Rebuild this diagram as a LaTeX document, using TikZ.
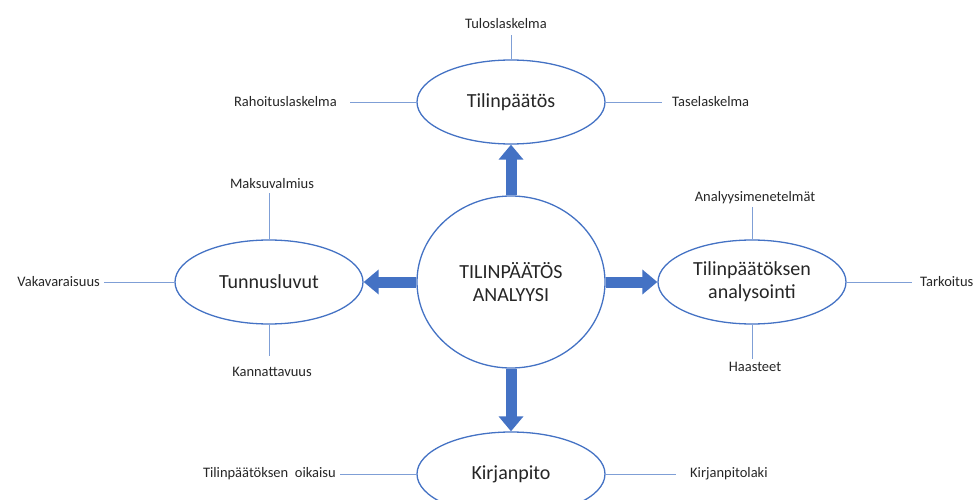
\documentclass[tikz,border=0pt]{standalone}
\usepackage{fontspec}
\setmainfont{Carlito}
\usetikzlibrary{shapes.geometric,arrows.meta}
\definecolor{ovalblue}{HTML}{4472C4}
\definecolor{linkblue}{HTML}{7F9FD6}
\definecolor{txtgray}{HTML}{262626}
\begin{document}
\begin{tikzpicture}[x=1pt,y=-1pt,line join=round,
	oval/.style={ellipse,draw=ovalblue,line width=1.3pt,fill=white,text=txtgray,inner sep=0pt,minimum width=188pt,minimum height=84pt,align=center,font=\fontsize{20}{23}\selectfont},
	lbl/.style={inner sep=0pt,text=txtgray,font=\fontsize{14.5}{17}\selectfont},
	link/.style={draw=linkblue,line width=0.8pt},
	bigarrow/.style={draw=ovalblue,line width=11pt,-{Triangle[length=15pt,width=24pt]}}]
		\useasboundingbox (0,0) rectangle (975,500);
		\clip (0,0) rectangle (975,500);
		
		\node[oval,minimum height=172pt] (center) at (511,282) {TILINPÄÄTÖS\\ANALYYSI};
		\node[oval] (top) at (511,102) {Tilinpäätös};
		\node[oval] (left) at (269,282) {Tunnusluvut};
		\node[oval] (right) at (752,282) {Tilinpäätöksen\\analysointi};
		\node[oval] (bottom) at (511,474) {Kirjanpito};
		
		\draw[bigarrow] (center.north) -- (top.south);
		\draw[bigarrow] (center.west) -- (left.east);
		\draw[bigarrow] (center.east) -- (right.west);
		\draw[bigarrow] (center.south) -- (bottom.north);
		
		\node[lbl] (tulos) at (506,24) {Tuloslaskelma};
		\node[lbl,anchor=east] (rahoitus) at (337,102) {Rahoituslaskelma};
		\node[lbl,anchor=west] (tase) at (672,102) {Taselaskelma};
		\node[lbl] (maksu) at (272,184) {Maksuvalmius};
		\node[lbl,anchor=east] (vaka) at (100,282) {Vakavaraisuus};
		\node[lbl] (kannatt) at (272,372) {Kannattavuus};
		\node[lbl] (menet) at (755,198) {Analyysimenetelmät};
		\node[lbl,anchor=west] (tarkoitus) at (920,282) {Tarkoitus};
		\node[lbl] (haasteet) at (755,367) {Haasteet};
		\node[lbl,anchor=east] (oikaisu) at (336,474) {Tilinpäätöksen\ \ oikaisu};
		\node[lbl,anchor=west] (kplaki) at (690,474) {Kirjanpitolaki};
		
		\draw[link,shorten <=6pt] (tulos.south -| top.north) -- (top.north);
		\draw[link,shorten <=13pt] (rahoitus.east) -- (top.west);
		\draw[link,shorten >=10pt] (top.east) -- (tase.west);
		\draw[link,shorten <=4pt] (maksu.south -| left.north) -- (left.north);
		\draw[link,shorten <=4pt] (vaka.east) -- (left.west);
		\draw[link,shorten >=11pt] (left.south) -- (left.south |- kannatt.north);
		\draw[link,shorten <=3pt] (menet.south -| right.north) -- (right.north);
		\draw[link,shorten >=8pt] (right.east) -- (tarkoitus.west);
		\draw[link,shorten >=3pt] (right.south) -- (right.south |- haasteet.north);
		\draw[link,shorten <=4pt] (oikaisu.east) -- (bottom.west);
		\draw[link,shorten >=14pt] (bottom.east) -- (kplaki.west);
\end{tikzpicture}
\end{document}
